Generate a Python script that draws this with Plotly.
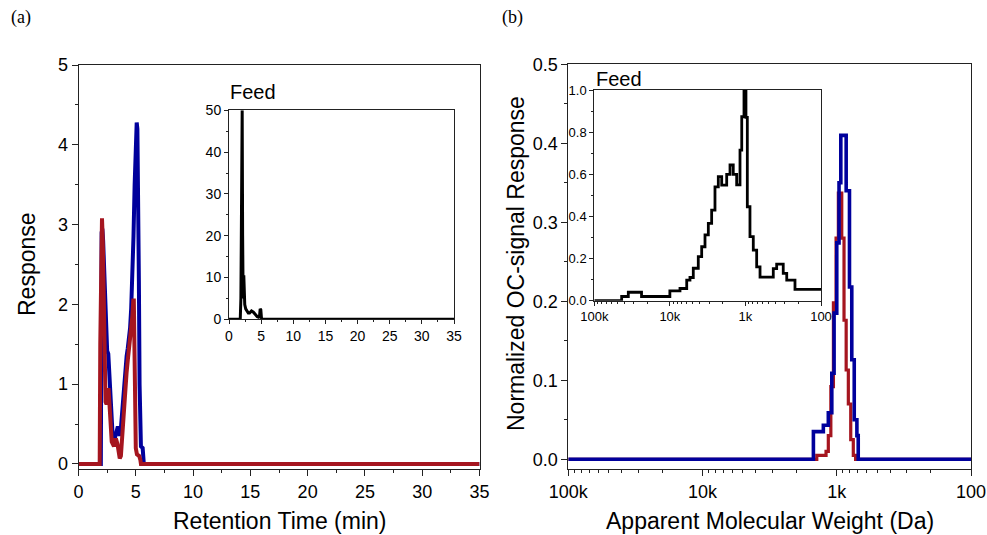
import plotly.graph_objects as go

W, H = 987, 535

# ---------------- data ----------------
# (a) main: retention time (min) vs response
a_time_blue = [0, 1.95, 2.02, 2.08, 2.15, 2.22, 2.3, 2.4, 2.5, 2.6, 2.7, 2.8, 2.9, 3.0, 3.1, 3.2,
               3.3, 3.4, 3.5, 3.6, 3.7, 3.8, 3.9, 4.0, 4.1, 4.2, 4.3, 4.4, 4.5, 4.6, 4.7, 4.8,
               4.9, 4.97, 5.03, 5.08, 5.14, 5.2, 5.27, 5.33, 5.4, 5.45, 5.6, 5.65, 5.7, 35]
a_resp_blue = [0, 0, 2.9, 2.95, 2.8, 2.5, 2.0, 1.5, 1.42, 1.38, 1.1, 0.7, 0.4, 0.3, 0.28, 0.35,
               0.42, 0.45, 0.45, 0.35, 0.45, 0.65, 0.85, 1.0, 1.2, 1.35, 1.45, 1.55, 1.7, 1.95, 2.3, 2.85,
               3.5, 4.0, 4.25, 4.28, 4.2, 3.6, 2.3, 1.0, 0.35, 0.22, 0.2, 0.05, 0, 0]
a_time_red = [0, 1.85, 1.9, 1.96, 2.05, 2.12, 2.2, 2.28, 2.36, 2.45, 2.55, 2.62, 2.7, 2.8, 2.9, 3.0,
              3.1, 3.2, 3.3, 3.4, 3.5, 3.6, 3.7, 3.8, 3.9, 4.0, 4.1, 4.2, 4.3, 4.4, 4.5, 4.6, 4.7,
              4.78, 4.83, 4.88, 4.93, 5.0, 5.1, 5.3, 5.4, 5.45, 35]
a_resp_red = [0, 0, 1.5, 2.9, 3.08, 2.8, 2.0, 1.2, 0.78, 0.75, 0.8, 0.95, 0.7, 0.38, 0.28, 0.25,
              0.22, 0.3, 0.3, 0.25, 0.12, 0.07, 0.1, 0.35, 0.6, 0.8, 1.0, 1.15, 1.3, 1.42, 1.55, 1.7, 1.85,
              2.05, 2.05, 1.5, 0.8, 0.2, 0.12, 0.1, 0.05, 0, 0]

# (a) inset: Feed
feed_a_time = [0, 1.75, 1.85, 1.95, 2.05, 2.12, 2.2, 2.3, 2.38, 2.45, 2.6, 2.8, 3.0, 3.2, 3.5,
               3.8, 4.1, 4.4, 4.6, 4.75, 4.85, 4.95, 5.05, 5.15, 35]
feed_a_resp = [0, 0, 5, 50, 50, 20, 5, 10.5, 8, 3.5, 2.5, 1.8, 1.5, 1.5, 2.0,
               1.7, 1.0, 0.6, 0.5, 0.8, 2.5, 2.3, 0.3, 0, 0]

# (b) main: apparent molecular weight (Da) vs normalized OC-signal response
b_mw_blue = [100000, 1493, 1259, 1156, 1089, 1047, 1000, 962, 933, 851, 804, 773, 741, 708, 692, 100]
b_resp_blue = [0, 0.035, 0.043, 0.059, 0.109, 0.185, 0.274, 0.35, 0.41, 0.34, 0.218, 0.126, 0.05, 0.03, 0, 0]
b_mw_red = [100000, 1409, 1202, 1156, 1107, 1059, 1012, 973, 918, 883, 851, 820, 787, 753, 724, 100]
b_resp_red = [0, 0.005, 0.01, 0.03, 0.092, 0.198, 0.28, 0.337, 0.28, 0.176, 0.113, 0.07, 0.025, 0.005, 0, 0]

# (b) inset: Feed
feed_b_mw = [100000, 43450, 35480, 23710, 10000, 7345, 5984, 5420, 4898, 4207, 3793, 3428, 3097,
             2799, 2529, 2286, 2061, 1770, 1600, 1449, 1306, 1180, 1119, 1045, 984, 944, 871,
             787, 710, 641, 428, 386, 316, 284, 221, 100]
feed_b_resp = [0, 0.02, 0.04, 0.02, 0.047, 0.058, 0.098, 0.11, 0.154, 0.209, 0.256, 0.312, 0.367,
               0.43, 0.54, 0.589, 0.549, 0.6, 0.644, 0.6, 0.55, 0.715, 0.873, 1.0, 0.87, 0.446, 0.304,
               0.24, 0.161, 0.112, 0.152, 0.174, 0.13, 0.098, 0.054, 0.054]

b_tickvals = [100000, 10000, 1000, 100]
b_ticktext = ["100k", "10k", "1k", "100"]

BLUE = "#00009c"
RED = "#a5151f"
FONT = "Liberation Sans, Arial, sans-serif"


def fx(px):
    return px / W


def fy(py):
    return 1 - py / H


fig = go.Figure()

fig.add_trace(go.Scatter(x=a_time_blue, y=a_resp_blue, mode="lines",
                         line=dict(color=BLUE, width=4), xaxis="x", yaxis="y"))
fig.add_trace(go.Scatter(x=a_time_red, y=a_resp_red, mode="lines",
                         line=dict(color=RED, width=4), xaxis="x", yaxis="y"))
fig.add_trace(go.Scatter(x=feed_a_time, y=feed_a_resp, mode="lines",
                         line=dict(color="black", width=3), xaxis="x2", yaxis="y2"))
fig.add_trace(go.Scatter(x=b_mw_red, y=b_resp_red, mode="lines", line_shape="hv",
                         line=dict(color=RED, width=3.2), xaxis="x3", yaxis="y3"))
fig.add_trace(go.Scatter(x=b_mw_blue, y=b_resp_blue, mode="lines", line_shape="hv",
                         line=dict(color=BLUE, width=3.6), xaxis="x3", yaxis="y3"))
fig.add_trace(go.Scatter(x=feed_b_mw, y=feed_b_resp, mode="lines", line_shape="hv",
                         line=dict(color="black", width=2.8), xaxis="x4", yaxis="y4"))

log_minor = [m * 10 ** e for e in (2, 3, 4) for m in range(2, 10)]


def ax(size, **kw):
    d = dict(showline=True, linecolor="#222", linewidth=1, mirror=True, automargin=False,
             ticks="outside", tickcolor="#222", tickwidth=1, showgrid=False, zeroline=False,
             ticklabeloverflow="allow",
             tickfont=dict(family=FONT, size=size, color="black"))
    d.update(kw)
    return d


fig.update_layout(
    width=W, height=H,
    margin=dict(l=0, r=0, t=0, b=0, autoexpand=False),
    paper_bgcolor="white", plot_bgcolor="rgba(0,0,0,0)",
    showlegend=False,
    xaxis=ax(18, domain=[fx(78.5), fx(479.5)], range=[0, 35], anchor="y",
             dtick=5, ticklen=6, minor=dict(ticks="outside", ticklen=3, dtick=2.5, tickcolor="#222")),
    yaxis=ax(18, domain=[fy(469), fy(65)], range=[-0.063, 5.0], anchor="x",
             dtick=1, ticklen=6, minor=dict(ticks="outside", ticklen=3, dtick=0.5, tickcolor="#222")),
    xaxis2=ax(14, domain=[fx(229), fx(454)], range=[0, 35], anchor="y2",
              dtick=5, ticklen=4, minor=dict(ticks="outside", ticklen=2, dtick=2.5, tickcolor="#222")),
    yaxis2=ax(14, domain=[fy(319.3), fy(110.3)], range=[0, 50], anchor="x2",
              dtick=10, ticklen=4, minor=dict(ticks="outside", ticklen=2, dtick=5, tickcolor="#222")),
    xaxis3=ax(18, domain=[fx(568.3), fx(971)], type="log", range=[5, 2], anchor="y3",
              tickvals=b_tickvals, ticktext=b_ticktext, ticklen=6,
              minor=dict(ticks="outside", ticklen=3, tickvals=log_minor, tickcolor="#222")),
    yaxis3=ax(18, domain=[fy(469), fy(64.3)], range=[-0.0123, 0.5], anchor="x3",
              dtick=0.1, tickformat=".1f", ticklen=6,
              minor=dict(ticks="outside", ticklen=3, dtick=0.05, tickcolor="#222")),
    xaxis4=ax(13, domain=[fx(594.3), fx(821)], type="log", range=[5, 2], anchor="y4",
              tickvals=b_tickvals, ticktext=b_ticktext, ticklen=4,
              minor=dict(ticks="outside", ticklen=2, tickvals=log_minor, tickcolor="#222")),
    yaxis4=ax(13, domain=[fy(300.7), fy(90)], range=[0, 1.0], anchor="x4",
              dtick=0.2, tickformat=".1f", ticklen=4,
              minor=dict(ticks="outside", ticklen=2, dtick=0.1, tickcolor="#222")),
)

ann = [
    dict(text="Retention Time (min)", x=fx(279), y=fy(521), size=23, xanchor="center"),
    dict(text="Apparent Molecular Weight (Da)", x=fx(770), y=fy(521), size=23, xanchor="center"),
    dict(text="Response", x=fx(27), y=fy(264), size=23, xanchor="center", textangle=-90),
    dict(text="Normalized OC-signal Response", x=fx(516), y=fy(264), size=23, xanchor="center", textangle=-90),
    dict(text="Feed", x=fx(228), y=fy(92), size=20, xanchor="left"),
    dict(text="Feed", x=fx(594), y=fy(79), size=20, xanchor="left"),
]
for a in ann:
    fig.add_annotation(text=a["text"], x=a["x"], y=a["y"], xref="paper", yref="paper",
                       xanchor=a["xanchor"], yanchor="middle", showarrow=False,
                       textangle=a.get("textangle", 0),
                       font=dict(family=FONT, size=a["size"], color="black"))

for lab, px in (("(a)", 9), ("(b)", 500)):
    fig.add_annotation(text=lab, x=fx(px), y=fy(18), xref="paper", yref="paper",
                       xanchor="left", yanchor="middle", showarrow=False,
                       font=dict(family="Liberation Serif, Times New Roman, serif", size=18, color="black"))

fig.write_html("out.html", config={"displayModeBar": False},
               post_script="document.body.style.margin='0';document.body.style.overflow='hidden';")
